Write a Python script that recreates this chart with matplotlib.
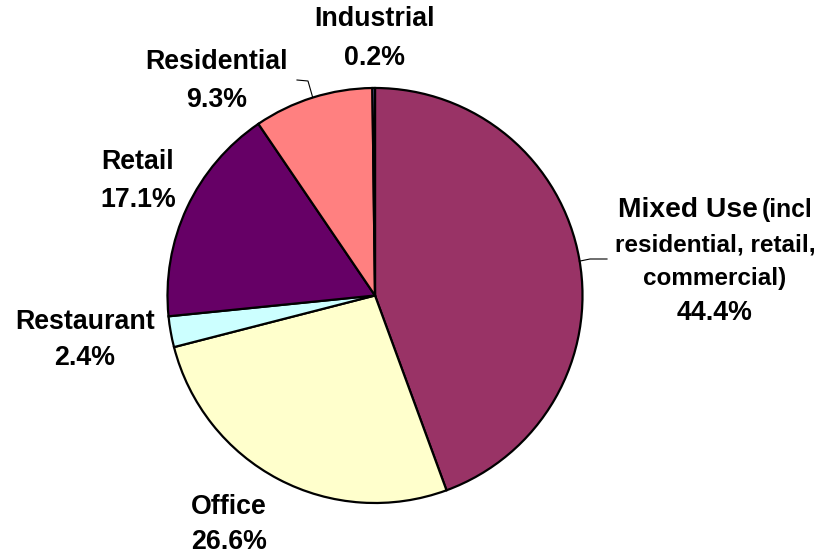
# Land use share pie chart
import numpy as np
import matplotlib.pyplot as plt

plt.rcParams['font.family'] = ['Liberation Sans', 'DejaVu Sans']

# Data, clockwise from 12 o'clock
categories = ['Mixed Use', 'Office', 'Restaurant', 'Retail', 'Residential', 'Industrial']
shares = [44.4, 26.6, 2.4, 17.1, 9.3, 0.2]
colors = ['#993366', '#FFFFCC', '#CCFFFF', '#660066', '#FF8080', '#9999FF']

W, H = 823, 556
cx, cy, r = 375, 295.5, 207.5

fig = plt.figure(figsize=(W / 100, H / 100), dpi=100)
ax = fig.add_axes([0, 0, 1, 1])
ax.set_xlim(0, W)
ax.set_ylim(0, H)
ax.set_aspect('equal')
ax.axis('off')

wedges, _ = ax.pie(shares, colors=colors, startangle=90, counterclock=False,
                   center=(cx, H - cy), radius=r,
                   wedgeprops=dict(edgecolor='black', linewidth=1.6))
ax.set_xlim(0, W)
ax.set_ylim(0, H)

fs = 19.3
# label layout: centre x, first line y (pixels from top), line gap
layout = {
    'Industrial': (375, 19, 39),
    'Residential': (217, 62, 38),
    'Retail': (138, 162, 38),
    'Restaurant': (85, 322, 36),
    'Office': (229, 507, 35),
}

for name, val in zip(categories, shares):
    if name not in layout:
        continue
    x, y0, gap = layout[name]
    for i, line in enumerate([name, f'{val:.1f}%']):
        ax.text(x, H - (y0 + i * gap), line, ha='center', va='center',
                fontsize=fs, fontweight='bold')

# Mixed Use label, with smaller explanatory text
mv = shares[0]
ax.text(758, H - 217, 'Mixed Use', ha='right', va='baseline', fontsize=20.3,
        fontweight='bold')
ax.text(762, H - 217, '(incl', ha='left', va='baseline', fontsize=17.7,
        fontweight='bold')
for i, line in enumerate(['residential, retail,', 'commercial)', f'{mv:.1f}%']):
    fsz = fs if i == 2 else 17.5
    ax.text(715, H - (245 + i * 34), line, ha='center', va='center',
            fontsize=fsz, fontweight='bold')


# leader lines from wedge edge
def edge_point(idx):
    w = wedges[idx]
    mid = np.deg2rad((w.theta1 + w.theta2) / 2)
    return cx + r * np.cos(mid), H - cy + r * np.sin(mid)


ex, ey = edge_point(0)
ax.plot([ex, 590, 607], [ey - 2, H - 259, H - 259], color='black', lw=0.8)
ex, ey = edge_point(4)
ax.plot([ex, 308, 297], [ey, H - 81, H - 80], color='black', lw=0.8)

fig.savefig('out.png', dpi=100)
